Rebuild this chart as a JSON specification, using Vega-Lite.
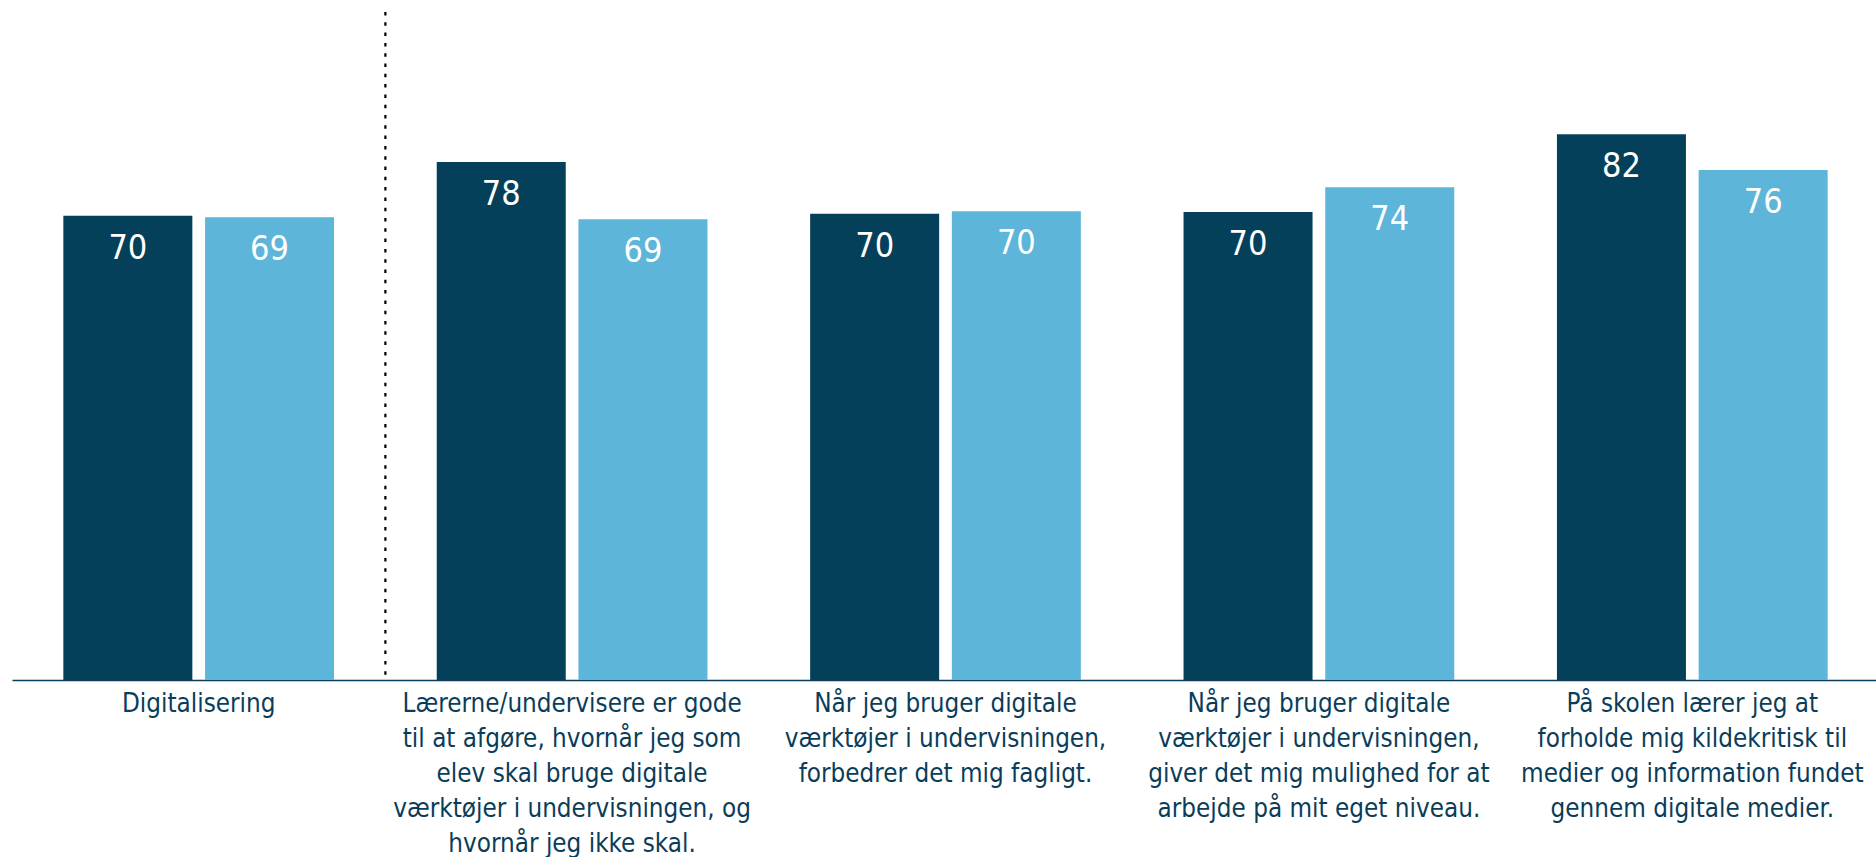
{
  "$schema": "https://vega.github.io/schema/vega-lite/v6.json",
  "width": 1867,
  "height": 664,
  "autosize": "none",
  "padding": {"left": 12, "top": 16, "right": 0, "bottom": 177},
  "background": "white",
  "config": {"view": {"stroke": null}, "font": "DejaVu Sans Condensed"},
  "data": {
    "values": [
      {"cat": "Digitalisering", "grp": "A", "value": 69.9, "label": "70"},
      {"cat": "Digitalisering", "grp": "B", "value": 69.7, "label": "69"},
      {"cat": "Lærerne/undervisere er gode|til at afgøre, hvornår jeg som|elev skal bruge digitale|værktøjer i undervisningen, og|hvornår jeg ikke skal.", "grp": "A", "value": 78.0, "label": "78"},
      {"cat": "Lærerne/undervisere er gode|til at afgøre, hvornår jeg som|elev skal bruge digitale|værktøjer i undervisningen, og|hvornår jeg ikke skal.", "grp": "B", "value": 69.4, "label": "69"},
      {"cat": "Når jeg bruger digitale|værktøjer i undervisningen,|forbedrer det mig fagligt.", "grp": "A", "value": 70.2, "label": "70"},
      {"cat": "Når jeg bruger digitale|værktøjer i undervisningen,|forbedrer det mig fagligt.", "grp": "B", "value": 70.6, "label": "70"},
      {"cat": "Når jeg bruger digitale|værktøjer i undervisningen,|giver det mig mulighed for at|arbejde på mit eget niveau.", "grp": "A", "value": 70.5, "label": "70"},
      {"cat": "Når jeg bruger digitale|værktøjer i undervisningen,|giver det mig mulighed for at|arbejde på mit eget niveau.", "grp": "B", "value": 74.2, "label": "74"},
      {"cat": "På skolen lærer jeg at|forholde mig kildekritisk til|medier og information fundet|gennem digitale medier.", "grp": "A", "value": 82.2, "label": "82"},
      {"cat": "På skolen lærer jeg at|forholde mig kildekritisk til|medier og information fundet|gennem digitale medier.", "grp": "B", "value": 76.8, "label": "76"}
    ]
  },
  "layer": [
    {
      "mark": {"type": "bar"},
      "encoding": {
        "x": {
          "field": "cat", "type": "nominal", "sort": null,
          "scale": {"paddingInner": 0.275, "paddingOuter": 0.1375},
          "axis": {
            "title": null, "ticks": false, "labelAngle": 0,
            "labelExpr": "split(datum.value, '|')",
            "labelFontSize": 25.8, "labelColor": "#0A3D5A",
            "labelLineHeight": 35.2, "labelPadding": 11,
            "labelBaseline": "top", "labelAlign": "center",
            "labelLimit": 0, "labelOverlap": false,
            "domainColor": "#0A3D5A", "domainWidth": 1.5
          }
        },
        "xOffset": {"field": "grp", "type": "nominal", "scale": {"paddingInner": 0.0896, "paddingOuter": 0}},
        "y": {"field": "value", "type": "quantitative", "scale": {"domain": [0, 100], "nice": false}, "axis": null},
        "color": {"field": "grp", "type": "nominal", "scale": {"domain": ["A", "B"], "range": ["#04405A", "#5EB5DA"]}, "legend": null}
      }
    },
    {
      "mark": {"type": "text", "color": "white", "fontSize": 34, "baseline": "alphabetic", "dy": 43, "align": "center"},
      "encoding": {
        "x": {"field": "cat", "type": "nominal", "sort": null},
        "xOffset": {"field": "grp", "type": "nominal"},
        "y": {"field": "value", "type": "quantitative"},
        "text": {"field": "label", "type": "nominal"}
      }
    },
    {
      "data": {"values": [{"cat": "Lærerne/undervisere er gode|til at afgøre, hvornår jeg som|elev skal bruge digitale|værktøjer i undervisningen, og|hvornår jeg ikke skal."}]},
      "mark": {"type": "rule", "color": "black", "strokeWidth": 2.2, "strokeDash": [3.5, 6.8]},
      "encoding": {
        "x": {"field": "cat", "type": "nominal", "bandPosition": -0.1897},
        "y": {"datum": 100.6},
        "y2": {"datum": 0}
      }
    }
  ]
}
